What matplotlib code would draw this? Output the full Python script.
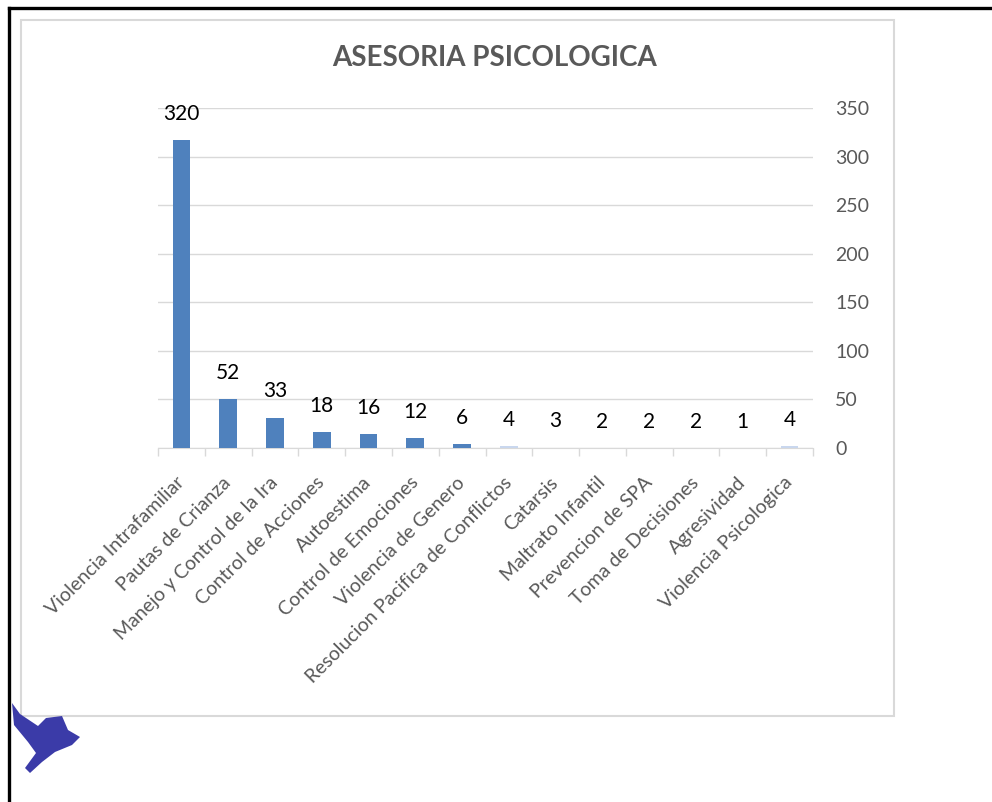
import matplotlib
matplotlib.use("Agg")
import matplotlib.pyplot as plt
from matplotlib.lines import Line2D
from matplotlib.patches import Rectangle, Polygon
import numpy as np

plt.rcParams['font.family'] = ['Lato', 'DejaVu Sans']

categories = ['Violencia Intrafamiliar', 'Pautas de Crianza', 'Manejo y Control de la Ira',
              'Control de Acciones', 'Autoestima', 'Control de Emociones', 'Violencia de Genero',
              'Resolucion Pacifica de Conflictos', 'Catarsis', 'Maltrato Infantil',
              'Prevencion de SPA', 'Toma de Decisiones', 'Agresividad', 'Violencia Psicologica']
# values printed as data labels
label_values = [320, 52, 33, 18, 16, 12, 6, 4, 3, 2, 2, 2, 1, 4]
# bar heights as drawn in the picture (they sit a bit below the labels)
bar_heights = [317, 50, 31, 16.5, 14.5, 10, 4, 2, 0.5, 0, 0, 0, 0, 2]
pale_bars = [7, 13]

W, H = 992, 802
fig = plt.figure(figsize=(W / 100, H / 100), dpi=100)
fig.patch.set_facecolor('white')

# outer black frame (top and left only)
fig.add_artist(Line2D([9 / W, 1], [1 - 8 / H, 1 - 8 / H], color='black', lw=2.4))
fig.add_artist(Line2D([9 / W, 9 / W], [0, 1 - 8 / H], color='black', lw=2.4))

# chart box
fig.add_artist(Rectangle((21 / W, 1 - 716 / H), 873 / W, 696 / H, transform=fig.transFigure,
                         fill=False, edgecolor='#d9d9d9', lw=1.5))

ax = fig.add_axes([158 / W, 1 - 448 / H, 655 / W, 340 / H])
x = np.arange(len(categories))
colors = ['#c9d7ee' if i in pale_bars else '#4f81bd' for i in x]
ax.bar(x, bar_heights, width=0.38, color=colors, zorder=3)

for xi, h, lab in zip(x, bar_heights, label_values):
    ax.annotate(str(lab), (xi, h), xytext=(0, 19), textcoords='offset points',
                ha='center', va='center', fontsize=15, color='black')

ax.set_xlim(-0.5, len(categories) - 0.5)
ax.set_ylim(0, 350)
ax.set_yticks(range(0, 351, 50))
ax.yaxis.tick_right()
ax.tick_params(axis='y', length=0, pad=16, labelsize=14, labelcolor='#595959')
ax.grid(axis='y', color='#d9d9d9', lw=1, zorder=0)

ax.set_xticks(x)
ax.set_xticklabels(categories, rotation=45, ha='right', va='center', rotation_mode='anchor',
                   fontsize=14, color='#595959')
ax.tick_params(axis='x', which='major', length=0, pad=23)
ax.set_xticks(np.arange(-0.5, len(categories), 1), minor=True)
ax.tick_params(axis='x', which='minor', length=6, color='#d9d9d9', width=1)

for side in ['left', 'right', 'top']:
    ax.spines[side].set_visible(False)
ax.spines['bottom'].set_color('#d9d9d9')

fig.text(495 / W, 1 - 58 / H, 'ASESORIA PSICOLOGICA', ha='center', va='center',
         fontsize=20, fontweight='bold', color='#595959')

# rough logo shape at bottom left
bird = [(12, 703), (20, 714), (38, 726), (46, 718), (62, 716), (68, 730), (80, 737),
        (72, 745), (55, 752), (42, 762), (30, 773), (25, 768), (36, 753), (28, 742), (14, 725)]
fig.add_artist(Polygon([(px / W, 1 - py / H) for px, py in bird], closed=True,
                       transform=fig.transFigure, facecolor='#3b3ba8', edgecolor='none'))

fig.savefig('out.png', dpi=100)
